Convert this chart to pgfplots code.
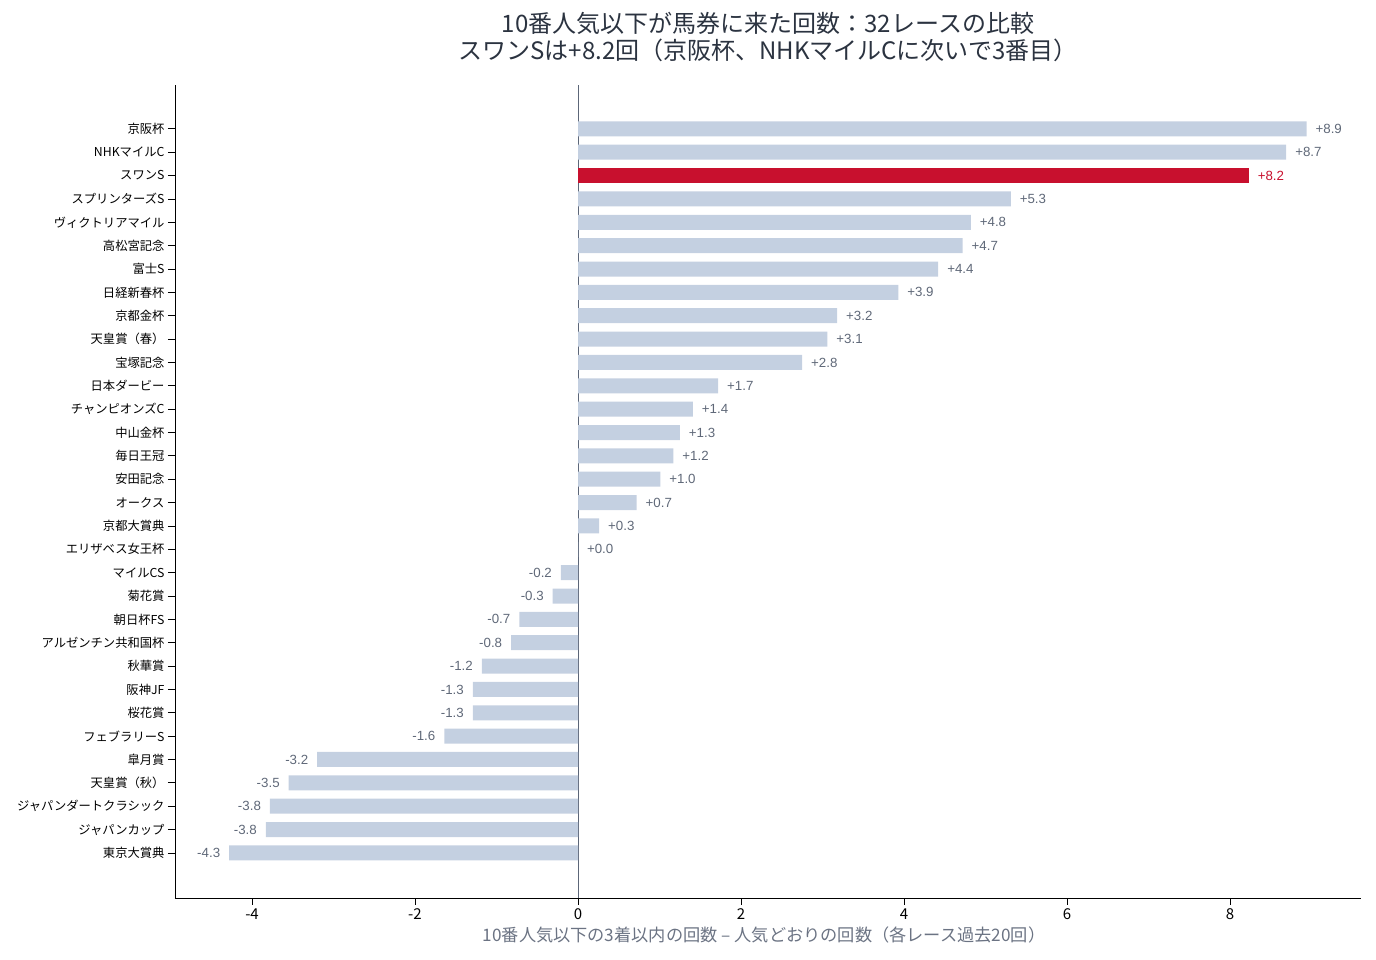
\documentclass[border=0pt]{standalone}
\usepackage{pgfplots}
\pgfplotsset{compat=1.18}
\usepackage{fontspec}
\setmainfont{Noto Sans CJK JP}
\newfontfamily\valfont{Liberation Sans}
\definecolor{barc}{HTML}{C4D0E1}
\definecolor{hl}{HTML}{C8102E}
\definecolor{valc}{HTML}{5F6878}
\definecolor{titc}{HTML}{2B3340}
\definecolor{labc}{HTML}{6B7383}
\definecolor{zeroc}{HTML}{5C6678}
\begin{document}
\begin{tikzpicture}[x=1pt,y=1pt]
\begin{axis}[
  at={(175pt,62pt)}, anchor=south west,
  scale only axis, width=1186pt, height=813pt,
  xmin=-4.945, xmax=9.607, ymin=-1.93, ymax=32.88,
  axis x line*=bottom, axis y line*=left,
  axis line style={-, line width=0.9pt, black},
  xtick={-4,-2,0,2,4,6,8}, xticklabels={-4,-2,0,2,4,6,8},
  ytick={0,...,31},
  yticklabels={東京大賞典,ジャパンカップ,ジャパンダートクラシック,天皇賞（秋）,皐月賞,フェブラリーS,桜花賞,阪神JF,秋華賞,アルゼンチン共和国杯,朝日杯FS,菊花賞,マイルCS,エリザベス女王杯,京都大賞典,オークス,安田記念,毎日王冠,中山金杯,チャンピオンズC,日本ダービー,宝塚記念,天皇賞（春）,京都金杯,日経新春杯,富士S,高松宮記念,ヴィクトリアマイル,スプリンターズS,スワンS,NHKマイルC,京阪杯},
  tick align=outside, major tick length=7pt,
  tick style={black, line width=0.8pt},
  xticklabel style={font=\fontsize{15}{15}\selectfont, text=black},
  yticklabel style={font=\fontsize{12.3}{12.3}\selectfont, text=black},
  xbar, bar width=15pt, bar shift=0pt,
  clip=false,
]
\draw[zeroc, line width=0.8pt] ({axis cs:0,0}|-{rel axis cs:0,0}) -- ({axis cs:0,0}|-{rel axis cs:0,1});
\addplot[xbar, fill=barc, draw=none, bar width=15pt,
  nodes near coords, point meta=explicit symbolic,
  nodes near coords style={anchor=west, xshift=5.5pt, text=valc, font=\valfont\fontsize{13.3}{13.3}\selectfont}]
  table[x=v, y=y, meta=l] {
v y l
8.94 31 +8.9
8.69 30 +8.7
5.31 28 +5.3
4.82 27 +4.8
4.72 26 +4.7
4.42 25 +4.4
3.93 24 +3.9
3.18 23 +3.2
3.06 22 +3.1
2.75 21 +2.8
1.72 20 +1.7
1.41 19 +1.4
1.25 18 +1.3
1.17 17 +1.2
1.01 16 +1.0
0.72 15 +0.7
0.26 14 +0.3
0.00 13 +0.0
};
\addplot[xbar, fill=barc, draw=none, bar width=15pt,
  nodes near coords, point meta=explicit symbolic,
  nodes near coords style={anchor=east, xshift=-5.5pt, text=valc, font=\valfont\fontsize{13.3}{13.3}\selectfont}]
  table[x=v, y=y, meta=l] {
v y l
-0.21 12 -0.2
-0.31 11 -0.3
-0.72 10 -0.7
-0.82 9 -0.8
-1.18 8 -1.2
-1.29 7 -1.3
-1.29 6 -1.3
-1.64 5 -1.6
-3.20 4 -3.2
-3.55 3 -3.5
-3.78 2 -3.8
-3.83 1 -3.8
-4.28 0 -4.3
};
\addplot[xbar, fill=hl, draw=none, bar width=15pt,
  nodes near coords, point meta=explicit symbolic,
  nodes near coords style={anchor=west, xshift=5.5pt, text=hl, font=\valfont\fontsize{13.3}{13.3}\selectfont}]
  table[x=v, y=y, meta=l] {
v y l
8.23 29 +8.2
};
\end{axis}
\node[align=center, text=titc, font=\fontsize{24}{27}\selectfont] at (768,923) {10番人気以下が馬券に来た回数：32レースの比較\\スワンSは+8.2回（京阪杯、NHKマイルCに次いで3番目）};
\node[text=labc, font=\fontsize{17.2}{17.2}\selectfont] at (764,25) {10番人気以下の3着以内の回数 – 人気どおりの回数（各レース過去20回）};
\pgfresetboundingbox
\useasboundingbox (0,0) rectangle (1376,960);
\end{tikzpicture}
\end{document}
